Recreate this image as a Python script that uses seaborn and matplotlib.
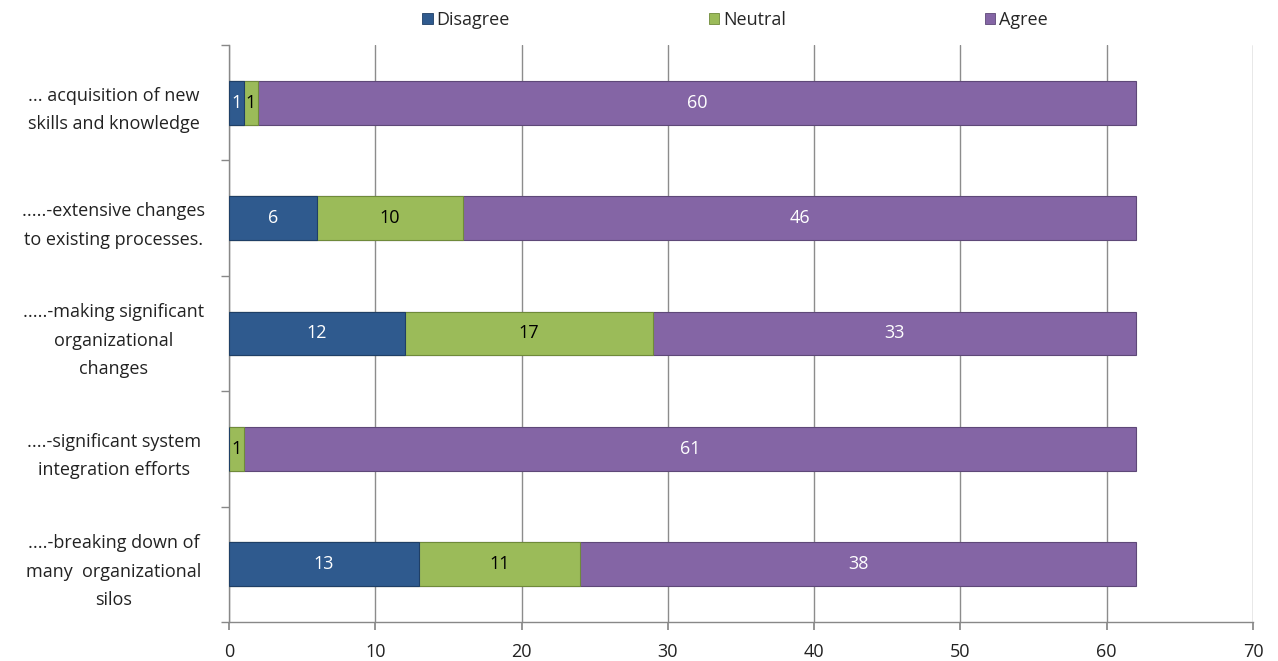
import matplotlib
matplotlib.use("Agg")
import matplotlib.pyplot as plt
import seaborn as sns
import pandas as pd
import numpy as np
from matplotlib.patches import Patch
from matplotlib.ticker import FixedLocator

categories = [
    "... acquisition of new\nskills and knowledge",
    ".....-extensive changes\nto existing processes.",
    ".....-making significant\norganizational\nchanges",
    "....-significant system\nintegration efforts",
    "....-breaking down of\nmany  organizational\nsilos",
]
disagree = [1, 6, 12, 0, 13]
neutral = [1, 10, 17, 1, 11]
agree = [60, 46, 33, 61, 38]
series_names = ["Disagree", "Neutral", "Agree"]
colors = {"Disagree": "#2F5A8E", "Neutral": "#9BBB59", "Agree": "#8465A5"}
edge_colors = {"Disagree": "#1F3F66", "Neutral": "#6F8A3A", "Agree": "#5E4878"}
text_colors = {"Disagree": "white", "Neutral": "black", "Agree": "white"}
xticks = [0, 10, 20, 30, 40, 50, 60, 70]

sns.set_theme(style="white")
plt.rcParams["font.family"] = ["Open Sans", "DejaVu Sans"]

FS = 13

df = pd.DataFrame({"category": categories, "Disagree": disagree,
                   "Neutral": neutral, "Agree": agree})
df["cum_Disagree"] = df["Disagree"]
df["cum_Neutral"] = df["Disagree"] + df["Neutral"]
df["cum_Agree"] = df["Disagree"] + df["Neutral"] + df["Agree"]

fig = plt.figure(figsize=(12.78, 6.61), dpi=100)
ax = fig.add_axes([229 / 1278, 1 - 622 / 661, (1253 - 229) / 1278, (622 - 45) / 661])

# draw cumulative bars from the longest to the shortest so they appear stacked
for name in ["Agree", "Neutral", "Disagree"]:
    sns.barplot(data=df, y="category", x="cum_" + name, color=colors[name],
                orient="h", width=0.38, ax=ax, saturation=1,
                edgecolor=edge_colors[name], linewidth=0.8, zorder=3)

# value labels
for i in range(len(categories)):
    start = 0
    for name in series_names:
        v = df.loc[i, name]
        if v > 0:
            ax.text(start + v / 2, i, str(v), ha="center", va="center",
                    color=text_colors[name], fontsize=FS, zorder=5)
        start += v

ax.set_xlim(0, 70)
ax.set_ylim(4.5, -0.5)
ax.set_xticks(xticks)
ax.set_xticklabels([str(t) for t in xticks], fontsize=FS, color="#222222")
ax.set_xlabel("")
ax.set_ylabel("")
ax.set_yticks(range(len(categories)))
ax.set_yticklabels(categories, fontsize=FS, color="#222222", ha="center",
                   linespacing=1.75)
ax.tick_params(axis="y", length=0, pad=83)
ax.yaxis.set_minor_locator(FixedLocator([-0.5, 0.5, 1.5, 2.5, 3.5, 4.5]))
ax.tick_params(axis="y", which="minor", length=6, color="#888888", direction="out", left=True)
ax.tick_params(axis="x", length=6, color="#888888", direction="out", bottom=True, pad=9)
for lbl in ax.get_yticklabels():
    lbl.set_multialignment("center")

ax.xaxis.grid(True, color="#8c8c8c", linewidth=1.0, zorder=0)
ax.yaxis.grid(False)
ax.set_axisbelow(True)
for s in ["top", "right"]:
    ax.spines[s].set_visible(False)
for s in ["left", "bottom"]:
    ax.spines[s].set_color("#888888")
    ax.spines[s].set_linewidth(1.0)

handles = [Patch(facecolor=colors[n], edgecolor=edge_colors[n], linewidth=0.6, label=n)
           for n in series_names]
fig.legend(handles=handles, loc="center", bbox_to_anchor=(735 / 1278, 1 - 20 / 661),
           ncol=3, frameon=False, fontsize=FS, handlelength=0.6, handleheight=0.6,
           handletextpad=0.2, columnspacing=11.0)

fig.savefig("out.png", dpi=100)
